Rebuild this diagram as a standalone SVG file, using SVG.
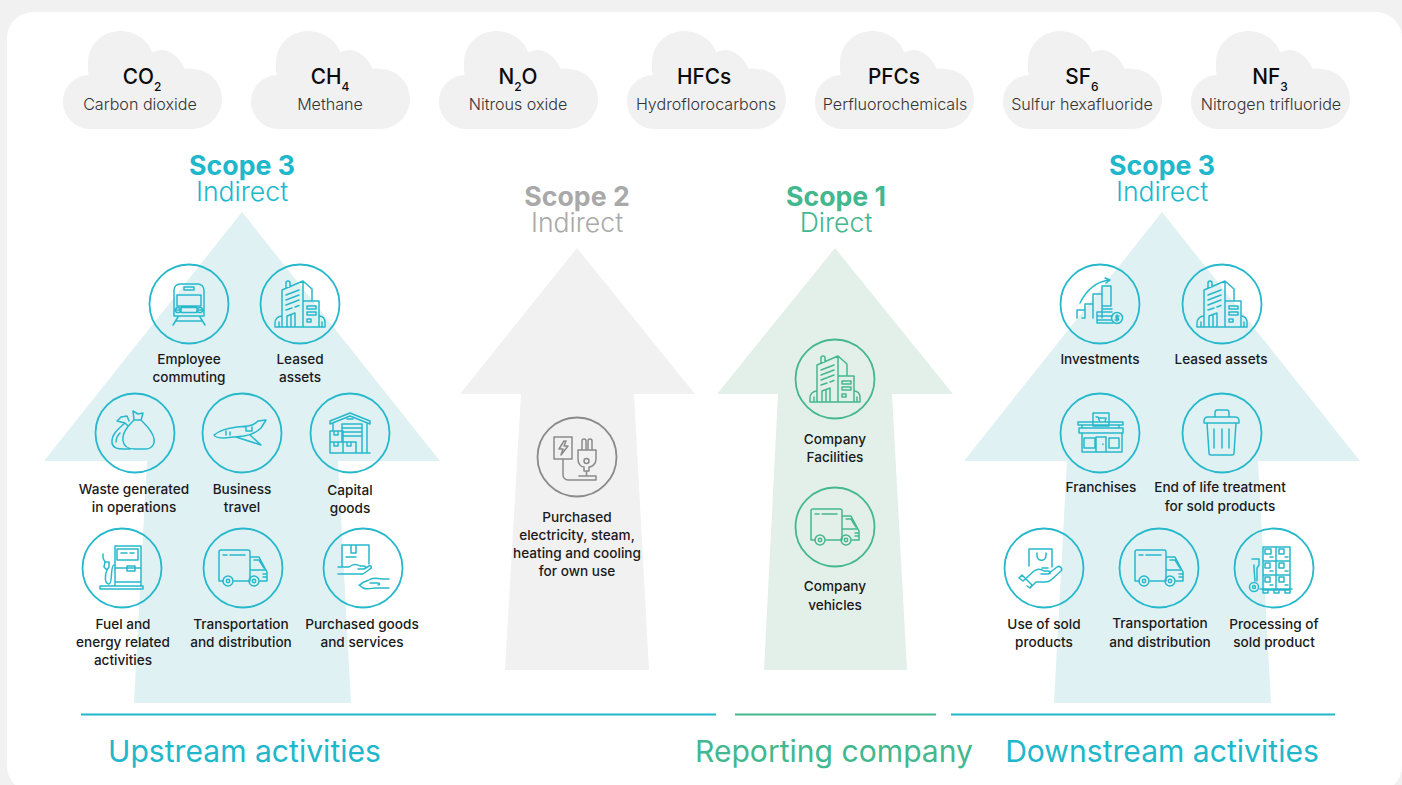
<svg xmlns="http://www.w3.org/2000/svg" width="1402" height="785" viewBox="0 0 1402 785">
<style>
text{font-family:Inter,"Liberation Sans",sans-serif;text-anchor:middle}
.l{font-size:13.6px;font-weight:500;fill:#1a1a1a}
.f{font-size:20.8px;font-weight:500;fill:#0c0c0c}
.s{font-size:12px}
.n{font-size:16.1px;font-weight:300;fill:#333}
.h{font-size:26.7px;font-weight:700}
.i{font-size:26.6px;font-weight:300}
.b{font-size:30.1px;font-weight:400}
.t{fill:#21b7cb}.g{fill:#43b78e}.a{fill:#a9a9a9}
.ct{color:#26b8cb}.cg{color:#45b78f}.ca{color:#8a8a8a}
.ic{fill:none;stroke:currentColor;stroke-width:1.5;stroke-linejoin:round;stroke-linecap:round}
.ring{fill:none;stroke:currentColor;stroke-width:1.8}
.cloud{fill:#f1f1f1}
.rule{stroke-width:2;fill:none}
</style>
<defs>
<path id="cloud" d="M27 98C12 98 0 85 0 71C0 56 11 45 26 44C25 42 25 40 25 32C25 14 39 0 57 0C72 0 85 9 89 21C92 20 95 19 98 19C108 19 117 27 122 38C125 37 128 38 130 38C146 38 159 52 159 68C159 84 146 98 129 98Z"/>
<g id="building" class="ic"><path d="M-18 23V-14L3-23V23M3-23L12-15V-3M4-3H19V23H4M-25 23H25M-14-15.500V-21a2 2 0 0 1 4 0V-17M-14-9L-1-14M-14-4L-1-9M-14 1L-1-4M-14 6L-8 4M-5 3L-1 1.500M-13 23V12L-5 9V23M-9 10.500V23M7 2H16V5H7ZM7 8H16V11H7ZM7 15H11V18H7ZM-18 12C-22 12-25 15-25 19V23M-21 18V23M19 12C23 12 25 15 25 19V23M22 18V23"/></g>
<g id="train" class="ic"><path d="M-15 12V-14a6 6 0 0 1 6-6H9a6 6 0 0 1 6 6V12ZM-5-17H5V-14H-5ZM-12-9H12V2H-12ZM-15 6H-8M8 6H15M-8 3.500H8V8.500H-8ZM-11 13L-16 21M11 13L16 21M-13 17H13"/><circle cx="-11" cy="6" r="2.600"/><circle cx="11" cy="6" r="2.600"/></g>
<g id="bags" class="ic"><path d="M-1-13C-8-6-13 0-12 8C-11 14-6 16 0 16H10C17 16 20 11 19 6C18-2 11-8 6-13ZM-1-13L-2-22L3-19L8-20L6-13M-10-10C-17-4-24 2-23 10C-22 15-18 16-11 16H-5M-10-10L-18-12L-14-16L-8-17L-6-12M-10-10L-7-7M-19 9C-19 5-17 2-15 0"/></g>
<g id="plane" class="ic"><path d="M-28 2C-22-3-14-5-5-6L6-7C10-7 13-9 16-12L24-13L19-5C15-1 9 2 2 3L-18 5C-23 5-27 4-28 2ZM-6 4L16 11L19 12L8 2M4-7V-2H10V-6M-16-2V2M-12-1V2"/></g>
<g id="warehouse" class="ic"><path d="M-20-12L0-20L20-12V-9L0-17L-20-9ZM-17-9V-3M17-9V20M-20 20H20M-8 9V-9H12V20M-8-5H12M-8-1H12M-8 3H12M-3-14H3M-20-2H-7V9H-20ZM-20 9H-7V20H-20ZM-7 9H6V20H-7ZM-16-2V2H-12V-2M-16 9V13H-12V9M-3 9V13H1V9"/></g>
<g id="pump" class="ic"><path d="M-22 21H21V18H-22ZM-7 18V-22H19V18M-5-19H16V-8H-5ZM-7 0H19M-7 14H19M5-2H13V3H5ZM-1-15H5M8-15H12M-8-3C-12-3-9 16-13 16C-18 16-17 6-15 2L-18-1L-17-6H-13V-1L-15 2M-17-6L-19-10V-14"/></g>
<g id="truck" class="ic"><path d="M-20 13H-24V-16a2 2 0 0 1 2-2H5a2 2 0 0 1 2 2V13H-9M7-11H16L24 4V13H17M7 13H5M7 2H22M11-8H16L21 0M-20-13H-16M-13-13H2M20 6H24M20 9H24"/><circle cx="-15" cy="13" r="5"/><circle cx="-15" cy="13" r="1.700"/><circle cx="11" cy="13" r="5"/><circle cx="11" cy="13" r="1.700"/></g>
<g id="hands" class="ic"><path d="M-21-2V-23H6V-4M-12-23V-15H-7V-23M-17-11H-7M-25-1H-14C-10-4-6-4-3-2H1C3-2 3 1 1 1H-5M1 1L6-2C9-3 9 0 7 1L0 6H-25M-3 17C0 13 5 13 8 11C12 9 15 11 19 11H26M-4 17L0 20C5 22 9 20 12 20H26M7 15H15C17 15 17 17 15 17"/></g>
<g id="plug" class="ic"><path d="M-23-20H-5V2H-23ZM-13-16L-18-8H-14L-16-2L-9-11H-13L-11-16ZM-14 2V18a5 5 0 0 0 5 5H19V19H2M1-7H19V2C19 7 15 10 12 10V14H7V10C4 10 1 7 1 2ZM5-7V-16a2 2 0 0 1 4 0V-7M11-7V-16a2 2 0 0 1 4 0V-7M9.500 14V19"/><circle cx="9.500" cy="4" r="2.500"/></g>
<g id="invest" class="ic"><path d="M-23 14V6H-15M-15 6V14H-18M-15 14V0H-7V14M-7 14V-10H2V14M2 8V-18H11V2M-20-1C-15-11-6-22 9-24M5-26L10-24L6-21M-3 8H12M-3 8V19H13M-3 12H12M-3 16H12M3 2H11M3 5H12"/><circle cx="17" cy="14" r="5.500"/><path d="M19 12H16V14H18.500V16H15M17 11V17"/></g>
<g id="shop" class="ic"><path d="M-22-11H23V-8H-22ZM-21-5H23V0H-21ZM-18 0V19H22V0M-18 19H22M-7-20H9V-7H-7ZM-4-16H-2L0-11H5L6-15H-1M-18-8V-5M19-8V-5M-16 5H-5V15H-16ZM9 5H19V15H9ZM-4 19V4H6V19M3 11V11.500"/></g>
<g id="bin" class="ic"><path d="M-18-12C-18-15-16-16-14-16H13C15-16 17-15 17-12V-10H-18ZM-7-16V-20C-7-22-6-23-5-23H5C6-23 7-22 7-20V-16M-15-10L-13 20C-13 22-12 22-11 22H10C11 22 12 22 12 20L14-10M-8-4V15M0-4V15M7-4V15"/></g>
<g id="sold" class="ic"><path d="M-15-2V-19H8V-1M-7-15V-13C-7-6 2-6 2-13V-15M-21 13L-10 3C-7 1-3 1 0 3H4C7 3 7 6 4 6H-3M4 6L13-1C16-3 19 1 17 3L7 12C5 14 3 14 1 14H-8L-13 19M-21 13L-25 10L-22 7L-12 17L-14 20L-17 18M-2 0H4"/></g>
<g id="pallet" class="ic"><path d="M-11-21H16V22H-11ZM-11-7H16M-11 7H16M2-21V22M-9-19H-3V-14H-9ZM5-19H10V-14H5ZM-9-5H-4V0H-9ZM5-5H10V0H5ZM-9 9H-4V14H-9ZM5 9H10V14H5ZM-4-11H-1M11-11H14M-4 3H-1M11 3H14M-4 17H-1M11 17H14M-14 21H18M-11 22V25H-6V22M0 22V25H5V22M11 22V25H16V22M-22-9H-15V-3L-17 0V13M-20-3V0L-19 13M-14 21H-11"/><circle cx="-20" cy="19" r="4.500"/><circle cx="-20" cy="19" r="1.500"/></g>
<g id="ringT"><circle class="ring" r="39.500"/></g>
</defs>

<rect width="1402" height="785" fill="#f1f1f1"/>
<rect x="7" y="12" width="1395" height="780" rx="26" fill="#fff"/>

<g id="arrows">
<path id="arrow-scope3-up" d="M242 212L440 461H338L351 703H134L147 461H44Z" fill="#e0f1f4"/>
<path id="arrow-scope2" d="M577 248L695 394H634L649 670H505L521 394H460Z" fill="#f1f1f1"/>
<path id="arrow-scope1" d="M835 248L953 394H892L907 670H764L778 394H717Z" fill="#e3f0e9"/>
<path id="arrow-scope3-down" d="M1162 212L1360 461H1258L1271 703H1054L1067 461H964Z" fill="#e0f1f4"/>
</g>

<g id="gas-co2"><use href="#cloud" x="63" y="31" class="cloud"/><text x="142" y="84" class="f">CO<tspan class="s" dy="7">2</tspan></text><text x="140" y="110" class="n">Carbon dioxide</text></g>
<g id="gas-ch4"><use href="#cloud" x="251" y="31" class="cloud"/><text x="330" y="84" class="f">CH<tspan class="s" dy="7">4</tspan></text><text x="330" y="110" class="n">Methane</text></g>
<g id="gas-n2o"><use href="#cloud" x="439" y="31" class="cloud"/><text x="518" y="84" class="f">N<tspan class="s" dy="7">2</tspan><tspan dy="-7">O</tspan></text><text x="518" y="110" class="n">Nitrous oxide</text></g>
<g id="gas-hfcs"><use href="#cloud" x="627" y="31" class="cloud"/><text x="704" y="84" class="f">HFCs</text><text x="706" y="110" class="n">Hydroflorocarbons</text></g>
<g id="gas-pfcs"><use href="#cloud" x="815" y="31" class="cloud"/><text x="894" y="84" class="f">PFCs</text><text x="895" y="110" class="n">Perfluorochemicals</text></g>
<g id="gas-sf6"><use href="#cloud" x="1003" y="31" class="cloud"/><text x="1082" y="84" class="f">SF<tspan class="s" dy="7">6</tspan></text><text x="1082" y="110" class="n">Sulfur hexafluoride</text></g>
<g id="gas-nf3"><use href="#cloud" x="1191" y="31" class="cloud"/><text x="1270" y="84" class="f">NF<tspan class="s" dy="7">3</tspan></text><text x="1271" y="110" class="n">Nitrogen trifluoride</text></g>

<g id="scope3-up-title"><text class="t"><tspan x="242" y="174.500" class="h">Scope 3</tspan><tspan x="242" y="201" class="i">Indirect</tspan></text></g>
<g id="scope2-title"><text class="a"><tspan x="577" y="205.500" class="h">Scope 2</tspan><tspan x="577" y="232" class="i">Indirect</tspan></text></g>
<g id="scope1-title"><text class="g"><tspan x="836" y="205.500" class="h">Scope 1</tspan><tspan x="836" y="232" class="i">Direct</tspan></text></g>
<g id="scope3-down-title"><text class="t"><tspan x="1162" y="174.500" class="h">Scope 3</tspan><tspan x="1162" y="201" class="i">Indirect</tspan></text></g>

<g id="employee-commuting" class="ct" transform="translate(189 304)"><use href="#ringT"/><use href="#train"/></g>
<text x="189" y="364" class="l">Employee</text><text x="189" y="382" class="l">commuting</text>
<g id="leased-assets-up" class="ct" transform="translate(300 304)"><use href="#ringT"/><use href="#building"/></g>
<text x="300" y="364" class="l">Leased</text><text x="300" y="382" class="l">assets</text>
<g id="waste" class="ct" transform="translate(135 433)"><use href="#ringT"/><use href="#bags"/></g>
<text x="134" y="494" class="l">Waste generated</text><text x="134" y="512" class="l">in operations</text>
<g id="business-travel" class="ct" transform="translate(242 433)"><use href="#ringT"/><use href="#plane"/></g>
<text x="242" y="494" class="l">Business</text><text x="242" y="512" class="l">travel</text>
<g id="capital-goods" class="ct" transform="translate(350 433)"><use href="#ringT"/><use href="#warehouse"/></g>
<text x="350" y="495" class="l">Capital</text><text x="350" y="513" class="l">goods</text>
<g id="fuel-energy" class="ct" transform="translate(122 568)"><use href="#ringT"/><use href="#pump"/></g>
<text x="123" y="629" class="l">Fuel and</text><text x="123" y="647" class="l">energy related</text><text x="123" y="665" class="l">activities</text>
<g id="transport-up" class="ct" transform="translate(243 568)"><use href="#ringT"/><use href="#truck"/></g>
<text x="241" y="629" class="l">Transportation</text><text x="241" y="647" class="l">and distribution</text>
<g id="purchased-goods" class="ct" transform="translate(363 568)"><use href="#ringT"/><use href="#hands"/></g>
<text x="362" y="629" class="l">Purchased goods</text><text x="362" y="647" class="l">and services</text>

<g id="electricity" class="ca" transform="translate(577 457)"><use href="#ringT"/><use href="#plug"/></g>
<text x="577" y="522" class="l">Purchased</text><text x="577" y="540" class="l">electricity, steam,</text><text x="577" y="558" class="l">heating and cooling</text><text x="577" y="576" class="l">for own use</text>

<g id="company-facilities" class="cg" transform="translate(835 379)"><use href="#ringT"/><use href="#building"/></g>
<text x="835" y="444" class="l">Company</text><text x="835" y="462" class="l">Facilities</text>
<g id="company-vehicles" class="cg" transform="translate(835 527)"><use href="#ringT"/><use href="#truck"/></g>
<text x="835" y="591" class="l">Company</text><text x="835" y="610" class="l">vehicles</text>

<g id="investments" class="ct" transform="translate(1100 304)"><use href="#ringT"/><use href="#invest"/></g>
<text x="1100" y="364" class="l">Investments</text>
<g id="leased-assets-down" class="ct" transform="translate(1222 304)"><use href="#ringT"/><use href="#building"/></g>
<text x="1221" y="364" class="l">Leased assets</text>
<g id="franchises" class="ct" transform="translate(1100 433)"><use href="#ringT"/><use href="#shop"/></g>
<text x="1101" y="492" class="l">Franchises</text>
<g id="end-of-life" class="ct" transform="translate(1222 433)"><use href="#ringT"/><use href="#bin"/></g>
<text x="1220" y="492" class="l">End of life treatment</text><text x="1220" y="511" class="l">for sold products</text>
<g id="use-of-sold" class="ct" transform="translate(1044 568)"><use href="#ringT"/><use href="#sold"/></g>
<text x="1044" y="629" class="l">Use of sold</text><text x="1044" y="647" class="l">products</text>
<g id="transport-down" class="ct" transform="translate(1159 568)"><use href="#ringT"/><use href="#truck"/></g>
<text x="1160" y="628" class="l">Transportation</text><text x="1160" y="647" class="l">and distribution</text>
<g id="processing" class="ct" transform="translate(1274 568)"><use href="#ringT"/><use href="#pallet"/></g>
<text x="1274" y="629" class="l">Processing of</text><text x="1274" y="647" class="l">sold product</text>

<g id="connectors">
<path class="rule" d="M81 714.500H716" stroke="#21b7cb"/>
<path class="rule" d="M735 714.500H936" stroke="#43b78e"/>
<path class="rule" d="M951 714.500H1335" stroke="#21b7cb"/>
</g>
<g id="band-labels">
<text x="244.500" y="762" class="b t">Upstream activities</text>
<text x="834" y="762" class="b g">Reporting company</text>
<text x="1162" y="762" class="b t">Downstream activities</text>
</g>
</svg>
